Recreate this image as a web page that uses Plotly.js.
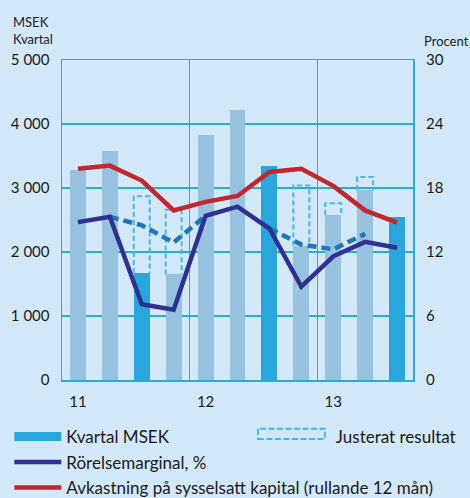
<!DOCTYPE html>
<html>
<head>
<meta charset="utf-8">
<script src="https://cdn.plot.ly/plotly-3.0.1.min.js"></script>
<style>
  html, body { margin: 0; padding: 0; background: #d3e8f9; }
  #chart { width: 470px; height: 498px; }
</style>
</head>
<body>
<div id="chart"></div>
<script>
// ---- data ----
const quarters = ['2011 K1','2011 K2','2011 K3','2011 K4','2012 K1','2012 K2','2012 K3','2012 K4','2013 K1','2013 K2','2013 K3'];
const yearLabels = ['11', '12', '13'];
const yearStartIdx = [0, 4, 8];
const kvartalMSEK = [3280, 3580, 1670, 1650, 3830, 4220, 3340, 2100, 2580, 2970, 2550];
const highlighted = [false, false, true, false, false, false, true, false, false, false, true];
const justeratResultat = [null, null, 2870, 2660, null, null, null, 3040, 2760, 3170, null];
const rorelsemarginal = [14.8, 15.3, 7.1, 6.6, 15.4, 16.25, 14.2, 8.75, 11.6, 12.95, 12.4];
const justeradMarginal = [null, 15.3, 14.5, 12.9, 15.4, null, 14.2, 12.7, 12.25, 13.7, null];
const avkastning = [19.8, 20.1, 18.7, 15.9, 16.7, 17.25, 19.5, 19.8, 18.2, 15.9, 14.75];

// ---- styles ----
const BG = '#d3e8f9';
const GRID = '#29abe2';
const LIGHT = '#97c3e1';
const DARK = '#29a7dc';
const NAVY = '#2e3192';
const RED = '#c1272d';
const DASHBLUE = '#1f75bc';
const BOXBLUE = '#45b8ec';
const FONT = 'Lato, "Open Sans", sans-serif';
const TXT = '#1a1a1a';
const BAR_W = 0.5;

const xIdx = quarters.map((_, i) => i);

// dashed outline boxes for adjusted result (3 sides: from actual value up to adjusted)
const boxX = [], boxY = [];
justeratResultat.forEach((adj, i) => {
  if (adj == null) return;
  const base = kvartalMSEK[i];
  boxX.push(i - BAR_W / 2, i - BAR_W / 2, i + BAR_W / 2, i + BAR_W / 2, null);
  boxY.push(base, adj, adj, base, null);
});

const traces = [
  {
    type: 'bar', x: xIdx, y: kvartalMSEK, width: BAR_W, name: 'Kvartal MSEK',
    marker: { color: highlighted.map(h => h ? DARK : LIGHT), line: { width: 0 } },
    showlegend: false, hoverinfo: 'x+y'
  },
  {
    type: 'scatter', mode: 'lines', x: boxX, y: boxY, name: 'Justerat resultat',
    line: { color: BOXBLUE, width: 2, dash: '5px,3px' }, connectgaps: false,
    showlegend: false
  },
  {
    type: 'scatter', mode: 'lines', x: xIdx, y: justeradMarginal, yaxis: 'y2',
    name: 'Justerad rörelsemarginal', showlegend: false,
    line: { color: DASHBLUE, width: 4.5, dash: '9px,5px' }, connectgaps: false
  },
  {
    type: 'scatter', mode: 'lines', x: xIdx, y: rorelsemarginal, yaxis: 'y2',
    name: 'Rörelsemarginal, %', legend: 'legend3',
    line: { color: NAVY, width: 4.5 }
  },
  {
    type: 'scatter', mode: 'lines', x: xIdx, y: avkastning, yaxis: 'y2',
    name: 'Avkastning på sysselsatt kapital (rullande 12 mån)', legend: 'legend4',
    line: { color: RED, width: 4.5 }
  },
  // legend proxy for the bars (wide block symbol like the original)
  {
    type: 'scatter', mode: 'lines', x: [null], y: [null], name: 'Kvartal MSEK',
    line: { color: DARK, width: 9 }, legend: 'legend', hoverinfo: 'skip'
  },
  // legend proxy for the adjusted-result boxes (symbol drawn as a dashed frame shape)
  {
    type: 'scatter', mode: 'lines', x: [null], y: [null], name: 'Justerat resultat',
    line: { color: 'rgba(0,0,0,0)', width: 1 }, legend: 'legend2', hoverinfo: 'skip'
  }
];

const legFont = { family: FONT, size: 17, color: TXT };
const mkLegend = (x, y, w) => ({
  x: x, y: y, xanchor: 'left', yanchor: 'middle', orientation: 'v',
  bgcolor: 'rgba(0,0,0,0)', borderwidth: 0, font: legFont, itemwidth: w,
  itemclick: false, itemdoubleclick: false
});

const layout = {
  width: 470, height: 498,
  margin: { l: 62, r: 57, t: 60, b: 118, autoexpand: false },
  paper_bgcolor: BG, plot_bgcolor: BG,
  separators: ', ',
  font: { family: FONT, size: 15, color: TXT },
  bargap: 0,
  xaxis: {
    range: [-0.5, 10.5], tickmode: 'array', tickvals: yearStartIdx, ticktext: yearLabels,
    showgrid: false, zeroline: false, showline: true, mirror: true,
    linecolor: GRID, linewidth: 1.5, ticks: '', ticklabelstandoff: 7,
    tickfont: { family: FONT, size: 15, color: TXT },
    minor: { tickmode: 'array', tickvals: [3.5, 7.5], showgrid: true, gridcolor: GRID, gridwidth: 1.3, ticks: '' }
  },
  yaxis: {
    range: [0, 5000], dtick: 1000, tick0: 0, separatethousands: true,
    showgrid: true, gridcolor: GRID, gridwidth: 1.3, zeroline: false,
    showline: true, mirror: true, linecolor: GRID, linewidth: 1.5,
    ticks: '', ticklabelstandoff: 8,
    tickfont: { family: FONT, size: 15, color: TXT }
  },
  yaxis2: {
    range: [0, 30], dtick: 6, tick0: 0, overlaying: 'y', side: 'right',
    showgrid: false, zeroline: false, showline: false, ticks: '', ticklabelstandoff: 12,
    tickfont: { family: FONT, size: 15, color: TXT }
  },
  legend: mkLegend(-0.15, -0.178, 47),
  legend2: mkLegend(0.558, -0.178, 68),
  legend3: mkLegend(-0.15, -0.258, 47),
  legend4: mkLegend(-0.15, -0.3375, 47),
  shapes: [
    { type: 'rect', xref: 'paper', yref: 'paper', x0: 0.5584, x1: 0.749, y0: -0.184, y1: -0.152,
      line: { color: BOXBLUE, width: 2, dash: '6px,2.5px' }, fillcolor: 'rgba(0,0,0,0)' }
  ],
  annotations: [
    { xref: 'paper', yref: 'paper', x: -0.145, y: 1.15, xanchor: 'left', yanchor: 'top',
      text: 'MSEK<br>Kvartal', showarrow: false, align: 'left',
      font: { family: FONT, size: 13, color: TXT } },
    { xref: 'paper', yref: 'paper', x: 1.025, y: 1.09, xanchor: 'left', yanchor: 'top',
      text: 'Procent', showarrow: false, align: 'left',
      font: { family: FONT, size: 13, color: TXT } }
  ],
  showlegend: true
};

Plotly.newPlot('chart', traces, layout, { displayModeBar: false, staticPlot: true });
</script>
</body>
</html>
